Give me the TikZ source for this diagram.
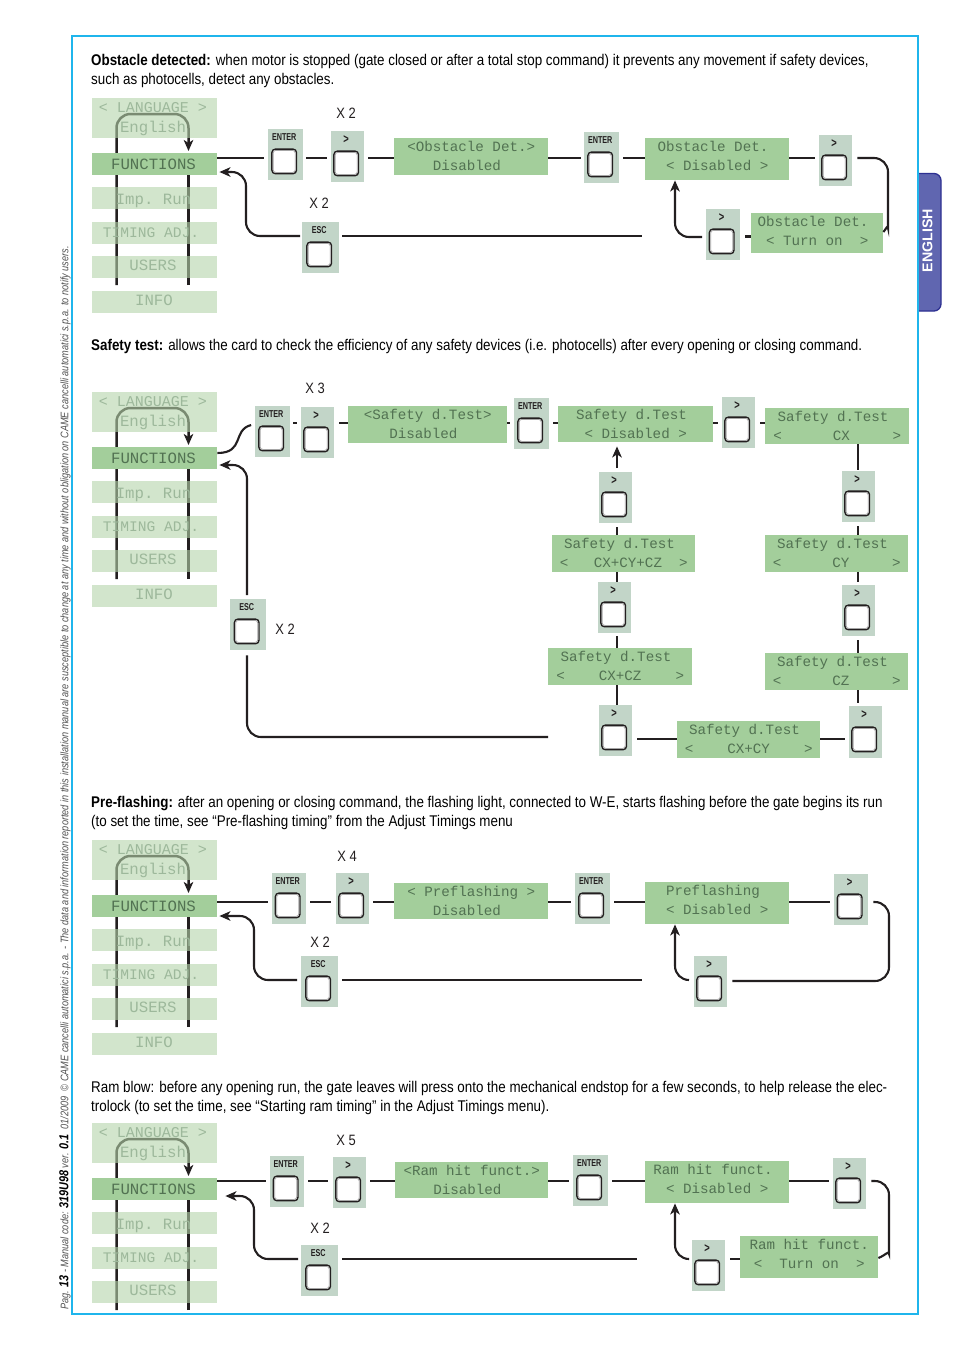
\documentclass[tikz,border=0pt]{standalone}
\usepackage{fontspec}
\usetikzlibrary{arrows.meta,calc}
\newfontfamily\bodyf[FakeStretch=0.863]{Liberation Sans}
\newfontfamily\capf[FakeStretch=0.72]{Liberation Sans}
\newfontfamily\sidef[FakeStretch=0.835]{Liberation Sans}
\newfontfamily\tabf{Liberation Sans}
\newfontfamily\lcdf{Liberation Mono}
\definecolor{frameblue}{HTML}{1FB5EC}
\definecolor{tabfill}{HTML}{6066B0}
\definecolor{tabline}{HTML}{2E3192}
\definecolor{lcdgreen}{HTML}{A3CE9B}
\definecolor{barbase}{RGB}{180,212,170}
\definecolor{keypanel}{HTML}{C2D5C8}
\definecolor{inkc}{HTML}{231F20}
\definecolor{lcdtext}{HTML}{527252}
\definecolor{fadetext}{HTML}{9DB89B}
\tikzset{
  conn/.style={draw=inkc,line width=2.1pt},
  connr/.style={conn,rounded corners=14pt},
  tipd/.style={-{Stealth[length=11pt,width=9.5pt,inset=3pt]}},
  panelbox/.style={fill=keypanel,inner sep=0,anchor=north west},
  keycap/.style={draw=inkc,line width=1.4pt,fill=white,rounded corners=3.5pt,minimum size=24.6pt,inner sep=0},
  keyin/.style={draw=black!35,line width=.8pt,fill=white,rounded corners=2.5pt,minimum size=22pt,inner sep=0},
  keylab/.style={font=\capf\bfseries\fontsize{10}{10}\selectfont,text=inkc,inner sep=0},
  lcdbox/.style={fill=lcdgreen,inner sep=0,anchor=north west},
  lcdtxt/.style={font=\lcdf\fontsize{14.2}{19}\selectfont,text=lcdtext,align=center,inner sep=0},
  menubar/.style={fill=barbase,fill opacity=.6,text opacity=1,inner sep=0,anchor=north west,minimum width=125pt,minimum height=22pt},
  menutxt/.style={font=\lcdf\fontsize{15.7}{20}\selectfont,text=fadetext,align=center,inner sep=0},
  bodyt/.style={font=\bodyf\fontsize{15.5}{19}\selectfont,text=black,anchor=base west,inner sep=0},
  xcount/.style={font=\bodyf\fontsize{15}{15}\selectfont,text=inkc,inner sep=0},
}
\newcommand{\gtl}{{\fontsize{13}{13}\selectfont >}}
% key: name x1 y1 x2 y2 label
\newcommand{\keybtn}[6]{%
  \node[panelbox,minimum width={(#4-#2)*1pt},minimum height={(#5-#3)*1pt}] (#1) at (#2,#3) {};
  \node[keycap] (#1-cap) at ($(#1.south)+(-1.5,-19)$) {};
  \node[keyin] (#1-in) at (#1-cap.center) {};
  \node[keylab] (#1-lab) at ($(#1.north)+(-1.5,8.5)$) {#6};
}
% lcd: name x1 y1 x2 y2 lines
\newcommand{\lcdbx}[6]{%
  \node[lcdbox,minimum width={(#4-#2)*1pt},minimum height={(#5-#3)*1pt}] (#1) at (#2,#3) {};
  \node[lcdtxt] (#1-t) at ($(#1.north)+(0,18)$) {#6};
}
\newcommand{\hc}[5]{\draw[conn,shorten <=#2pt,shorten >=#4pt] (#1.east |- 0,#5) -- (#3.west |- 0,#5);}
\newcommand{\vc}[5]{\draw[conn,shorten <=#2pt,shorten >=#4pt] (#5,0 |- #1.south) -- (#5,0 |- #3.north);}
\newcommand{\pad}{\phantom{.}}
% menu: suffix offset bottom-of-lines info?
\newcommand{\menucol}[4]{%
  \coordinate (bl#1) at (116.5,#3);
  \coordinate (br#1) at (188.5,#3);
  \coordinate (tl#1) at (116.5,114+#2);
  \coordinate (tr#1) at (188.5,114+#2);
  \coordinate (hd#1) at (188.5,151+#2);
  \coordinate (mr#1) at (188.5,165+#2);
  \draw[conn,line width=2.5pt,rounded corners=14pt,tipd] (bl#1) -- (tl#1) -- (tr#1) -- (hd#1);
  \draw[conn,line width=2.5pt] (br#1) -- (mr#1);
  \node[menubar,minimum height=40pt] (lang#1) at (92,98+#2) {};
  \node[menutxt] (lang#1-t) at (153,119.5+#2) {{\fontsize{15}{20}\selectfont <~LANGUAGE~>}\\English};
  \node[fill=lcdgreen,inner sep=0,anchor=north west,minimum width=125pt,minimum height=22pt] (func#1) at (92,153+#2) {};
  \node[menutxt,text=lcdtext] (func#1-t) at (153.5,164+#2) {FUNCTIONS};
  \node[menubar] (imp#1) at (92,187+#2) {};
  \node[menutxt] (imp#1-t) at (153.5,200.5+#2) {Imp.~Run};
  \node[menubar] (tim#1) at (92,222+#2) {};
  \node[menutxt,font=\lcdf\fontsize{14.6}{20}\selectfont] (tim#1-t) at (151,233+#2) {TIMING~ADJ.};
  \node[menubar] (usr#1) at (92,256+#2) {};
  \node[menutxt] (usr#1-t) at (153,265+#2) {USERS};
  #4
}
\newcommand{\infobar}[2]{%
  \node[menubar] (inf#1) at (92,291+#2) {};
  \node[menutxt] (inf#1-t) at (154,300+#2) {INFO};
}
\begin{document}
\begin{tikzpicture}[x=1pt,y=-1pt]
\fill[white] (0,0) rectangle (954,1350);
\useasboundingbox (0,0) rectangle (954,1350);
% tab and frame
\path[fill=tabfill,draw=tabline,line width=1.3pt,rounded corners=7pt] (912,173.5) -- (941,173.5) -- (941,311) -- (912,311) -- cycle;
\fill[white] (900,170) rectangle (918,315);
\draw[frameblue,line width=1.6pt] (72,36) rectangle (918,1314);
\node[rotate=90,font=\tabf\bfseries\fontsize{14.2}{14}\selectfont,text=white,inner sep=0] (tabt) at (927.5,240.5) {ENGLISH};
% side note
\node[rotate=90,anchor=west,inner sep=0,text=black!68,font=\sidef\itshape\fontsize{11}{11}\selectfont] (side) at (65,1310)
 {Pag. {\color{black}\bfseries\fontsize{13}{12}\selectfont 13} - Manual code: {\color{black}\bfseries\fontsize{13}{12}\selectfont 319U98} ver. {\color{black}\bfseries\fontsize{13}{12}\selectfont 0.1} \ 01/2009 \ © CAME cancelli automatici s.p.a. - The data and information reported in this installation manual are susceptible to change at any time and without obligation on CAME cancelli automatici s.p.a. to notify users.};
% body text
\node[bodyt] (t1a) at (91,65) {\textbf{Obstacle detected:} when motor is stopped (gate closed or after a total stop command) it prevents any movement if safety devices,};
\node[bodyt] (t1b) at (91,84) {such as photocells, detect any obstacles.};
\node[bodyt] (t2a) at (91,350) {\textbf{Safety test:} allows the card to check the efficiency of any safety devices (i.e. photocells) after every opening or closing command.};
\node[bodyt] (t3a) at (91,807) {\textbf{Pre-flashing:} after an opening or closing command, the flashing light, connected to W-E, starts flashing before the gate begins its run};
\node[bodyt] (t3b) at (91,826) {(to set the time, see “Pre-flashing timing” from the Adjust Timings menu};
\node[bodyt] (t4a) at (91,1092) {Ram blow: before any opening run, the gate leaves will press onto the mechanical endstop for a few seconds, to help release the elec-};
\node[bodyt] (t4b) at (91,1111) {trolock (to set the time, see “Starting ram timing” in the Adjust Timings menu).};
% ===== menus
\menucol{a}{0}{285}{\infobar{a}{0}}
\menucol{b}{294}{579}{\infobar{b}{294}}
\menucol{c}{742}{1027}{\infobar{c}{742}}
\menucol{d}{1025}{1310}{}
% ===== section 1
\node[xcount] (xa1) at (346,113) {X 2};
\node[xcount] (xa2) at (319,203) {X 2};
\keybtn{aEn}{268}{129}{303}{180}{ENTER}
\keybtn{aGt}{331}{131}{364}{182}{\gtl}
\lcdbx{aL1}{394}{138}{548}{175}{<Obstacle Det.>\\Disabled\pad}
\keybtn{aEn2}{584}{132}{619}{183}{ENTER}
\lcdbx{aL2}{645}{138}{789}{180}{Obstacle Det.\pad\\< Disabled >}
\keybtn{aGt2}{819}{135}{852}{186}{\gtl}
\lcdbx{aL3}{751}{213}{883}{253}{Obstacle Det.\pad\\< Turn on~ >}
\keybtn{aGt3}{706}{209}{740}{260}{\gtl}
\keybtn{aEsc}{302}{222}{339}{273}{ESC}
\hc{funca}{0}{aEn}{4}{158}
\hc{aEn}{3}{aGt}{4}{158}
\hc{aGt}{4}{aL1}{0}{158}
\hc{aL1}{0}{aEn2}{3}{158}
\hc{aEn2}{4}{aL2}{0}{158}
\hc{aL2}{0}{aGt2}{4}{158}
\draw[connr,shorten <=5pt] (aGt2.east |- 0,158) -- (888,158) -- (888,214) .. controls (888,224) and (886,229) .. (aL3.east |- 0,232);
\hc{aGt3}{5}{aL3}{0}{236.5}
\draw[connr,tipd,shorten <=4pt] (aGt3.west |- 0,237) -- (675,237) -- (675 ,0 |- aL2.south);
\draw[conn] (aEsc.east |- 0,236) ++(3,0) -- (642,236);
\draw[connr,tipd,shorten <=2pt,shorten >=2pt] (aEsc.west |- 0,236) -- (246,236) -- (246,172) -- (funca.east |- 0,172);
% ===== section 2
\node[xcount] (xb1) at (315,388) {X 3};
\node[xcount] (xb2) at (285,629) {X 2};
\keybtn{bEn}{255}{406}{290}{457}{ENTER}
\keybtn{bGt}{301}{407}{334}{458}{\gtl}
\lcdbx{bL1}{348}{406}{507}{443}{<Safety d.Test>\\Disabled\pad}
\keybtn{bEn2}{514}{398}{549}{449}{ENTER}
\lcdbx{bL2}{558}{406}{713}{442}{Safety d.Test\pad\\< Disabled >}
\keybtn{bGt2}{722}{397}{755}{448}{\gtl}
\lcdbx{bCX}{765}{408}{909}{444}{Safety d.Test\pad\\<~~~~~~CX~~~~~>}
\keybtn{bGt3}{842}{471}{875}{522}{\gtl}
\lcdbx{bCY}{765}{535}{908}{572}{Safety d.Test\pad\\<~~~~~~CY~~~~~>}
\keybtn{bGt4}{842}{585}{875}{636}{\gtl}
\lcdbx{bCZ}{765}{653}{908}{690}{Safety d.Test\pad\\<~~~~~~CZ~~~~~>}
\keybtn{bGt5}{849}{706}{882}{758}{\gtl}
\lcdbx{bCXY}{677}{721}{820}{758}{Safety d.Test\pad\\<~~~~CX+CY~~~~>}
\keybtn{bGt6}{599}{705}{632}{756}{\gtl}
\lcdbx{bCXZ}{548}{648}{692}{685}{Safety d.Test\pad\\<~~~~CX+CZ~~~~>}
\keybtn{bGt7}{598}{582}{631}{633}{\gtl}
\lcdbx{bCXYZ}{552}{535}{695}{572}{Safety d.Test\pad\\<~~~CX+CY+CZ~~>}
\keybtn{bGt8}{599}{472}{632}{523}{\gtl}
\keybtn{bEsc}{230}{599}{266}{650}{ESC}
\draw[conn,shorten >=4pt] (funcb.east |- 0,453) .. controls (245,453) and (232,430) .. (bEn.west |- 0,424);
\hc{bEn}{3}{bGt}{4}{423}
\hc{bGt}{5}{bL1}{0}{423}
\hc{bL1}{0}{bEn2}{4}{423}
\hc{bEn2}{4}{bL2}{0}{423}
\hc{bL2}{0}{bGt2}{4}{423}
\hc{bGt2}{5}{bCX}{0}{423}
\vc{bCX}{0}{bGt3}{1}{858}
\vc{bGt3}{4}{bCY}{0}{858}
\vc{bCY}{0}{bGt4}{3}{858}
\vc{bGt4}{4}{bCZ}{0}{858}
\vc{bCZ}{0}{bGt5}{3}{858}
\draw[conn,shorten <=0pt,shorten >=4pt] (bCXY.east |- 0,739) -- (bGt5.west |- 0,739);
\hc{bGt6}{5}{bCXY}{0}{739}
\vc{bCXZ}{0}{bGt6}{0}{617}
\vc{bGt7}{3}{bCXZ}{0}{617}
\vc{bCXYZ}{0}{bGt7}{0}{617}
\vc{bGt8}{4}{bCXYZ}{0}{617}
\draw[conn,tipd,shorten <=4pt,shorten >=4pt] (617,0 |- bGt8.north) -- (617,0 |- bL2.south);
\coordinate (bEnd) at (548,737);
\draw[connr,shorten >=5pt] (bEnd) -- (247,737) -- (247,0 |- bEsc.south);
\draw[connr,tipd,shorten <=4pt,shorten >=2pt] (247,0 |- bEsc.north) -- (247,465) -- (funcb.east |- 0,465);
% ===== section 3
\node[xcount] (xc1) at (347,856) {X 4};
\node[xcount] (xc2) at (320,942) {X 2};
\keybtn{cEn}{272}{873}{306}{924}{ENTER}
\keybtn{cGt}{336}{873}{369}{924}{\gtl}
\lcdbx{cL1}{394}{883}{548}{919}{< Preflashing >\\Disabled\pad}
\keybtn{cEn2}{575}{873}{610}{924}{ENTER}
\lcdbx{cL2}{645}{882}{789}{924}{Preflashing\pad\\< Disabled >}
\keybtn{cGt2}{834}{874}{868}{925}{\gtl}
\keybtn{cGt3}{694}{956}{727}{1007}{\gtl}
\keybtn{cEsc}{301}{956}{338}{1007}{ESC}
\hc{funcc}{0}{cEn}{4}{902}
\hc{cEn}{4}{cGt}{5}{902}
\hc{cGt}{4}{cL1}{0}{902}
\hc{cL1}{0}{cEn2}{4}{902}
\hc{cEn2}{4}{cL2}{0}{902}
\hc{cL2}{0}{cGt2}{4}{902}
\draw[connr,shorten <=5pt,shorten >=5pt] (cGt2.east |- 0,902) -- (889,902) -- (889,981) -- (cGt3.east |- 0,981);
\draw[connr,tipd,shorten <=5pt] (cGt3.west |- 0,980) -- (675,980) -- (675,0 |- cL2.south);
\draw[conn] (cEsc.east |- 0,980) ++(4,0) -- (642,980);
\draw[connr,tipd,shorten <=4pt,shorten >=2pt] (cEsc.west |- 0,980) -- (254,980) -- (254,916) -- (funcc.east |- 0,916);
% ===== section 4
\node[xcount] (xd1) at (346,1140) {X 5};
\node[xcount] (xd2) at (320,1228) {X 2};
\keybtn{dEn}{270}{1156}{304}{1207}{ENTER}
\keybtn{dGt}{333}{1157}{366}{1208}{\gtl}
\lcdbx{dL1}{395}{1162}{548}{1198}{<Ram hit funct.>\\Disabled\pad}
\keybtn{dEn2}{573}{1155}{608}{1206}{ENTER}
\lcdbx{dL2}{645}{1161}{789}{1203}{Ram hit funct.\pad\\< Disabled >}
\keybtn{dGt2}{833}{1158}{866}{1209}{\gtl}
\lcdbx{dL3}{740}{1236}{878}{1278}{Ram hit funct.\\<~~Turn on~~>}
\keybtn{dGt3}{692}{1240}{725}{1291}{\gtl}
\keybtn{dEsc}{301}{1245}{338}{1296}{ESC}
\hc{funcd}{0}{dEn}{4}{1181}
\hc{dEn}{4}{dGt}{5}{1181}
\hc{dGt}{4}{dL1}{0}{1181}
\hc{dL1}{0}{dEn2}{4}{1181}
\hc{dEn2}{4}{dL2}{0}{1181}
\hc{dL2}{0}{dGt2}{4}{1181}
\draw[connr,shorten <=5pt] (dGt2.east |- 0,1181) -- (889,1181) -- (889,1240) .. controls (889,1250) and (886,1255) .. (dL3.east |- 0,1258);
\hc{dGt3}{5}{dL3}{0}{1259}
\draw[connr,tipd,shorten <=4pt] (dGt3.west |- 0,1259) -- (675,1259) -- (675,0 |- dL2.south);
\draw[conn] (dEsc.east |- 0,1259) ++(4,0) -- (637,1259);
\draw[connr,tipd,shorten <=3pt,shorten >=8pt] (dEsc.west |- 0,1259) -- (254,1259) -- (254,1196) -- (funcd.east |- 0,1196);
\end{tikzpicture}
\end{document}
